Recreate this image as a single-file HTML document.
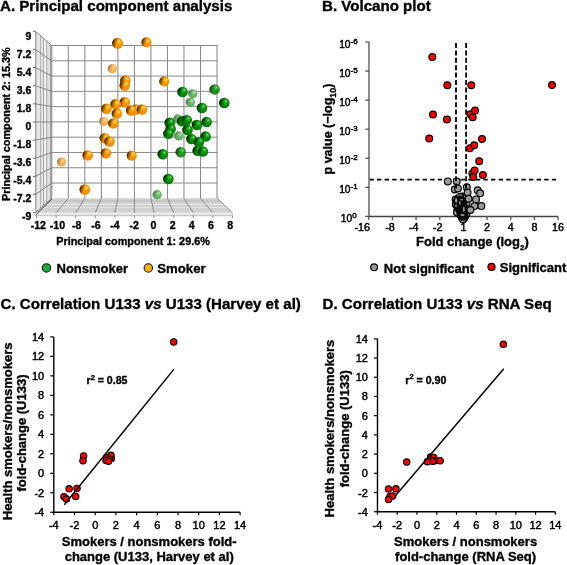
<!DOCTYPE html>
<html><head><meta charset="utf-8"><style>
html,body{margin:0;padding:0;background:#fff;width:567px;height:565px;overflow:hidden}
svg{display:block;will-change:transform}
text{font-family:"Liberation Sans", sans-serif;fill:#000;stroke:#000;stroke-width:0.35px}
.rg{stroke-width:0.45px}
</style></head><body>
<svg width="567" height="565" viewBox="0 0 567 565">
<defs>
<radialGradient id="gO" cx="0.55" cy="0.45" r="0.62" fx="0.68" fy="0.3">
 <stop offset="0" stop-color="#fff6b0"/><stop offset="0.13" stop-color="#ffc640"/><stop offset="0.42" stop-color="#f69500"/><stop offset="0.85" stop-color="#ee8c00"/><stop offset="1" stop-color="#d07000"/>
</radialGradient>
<radialGradient id="gG" cx="0.55" cy="0.45" r="0.62" fx="0.68" fy="0.3">
 <stop offset="0" stop-color="#a8f0a8"/><stop offset="0.13" stop-color="#3cba3c"/><stop offset="0.42" stop-color="#0a900a"/><stop offset="0.85" stop-color="#067c06"/><stop offset="1" stop-color="#045e04"/>
</radialGradient>
<linearGradient id="gDark" x1="0" y1="0.35" x2="1" y2="0.65">
 <stop offset="0" stop-color="#140a00" stop-opacity="1"/><stop offset="0.2" stop-color="#140a00" stop-opacity="0.45"/><stop offset="0.42" stop-color="#140a00" stop-opacity="0"/>
</linearGradient>
<linearGradient id="gDarkG" x1="0" y1="0.35" x2="1" y2="0.65">
 <stop offset="0" stop-color="#001400" stop-opacity="1"/><stop offset="0.2" stop-color="#001400" stop-opacity="0.45"/><stop offset="0.42" stop-color="#001400" stop-opacity="0"/>
</linearGradient>
<radialGradient id="gOL" cx="0.55" cy="0.45" r="0.62" fx="0.68" fy="0.3">
 <stop offset="0" stop-color="#fff2a0"/><stop offset="0.15" stop-color="#fbcf6a"/><stop offset="0.45" stop-color="#f5b460"/><stop offset="1" stop-color="#eea850"/>
</radialGradient>
<radialGradient id="gGL" cx="0.55" cy="0.45" r="0.62" fx="0.68" fy="0.3">
 <stop offset="0" stop-color="#d0f5d0"/><stop offset="0.15" stop-color="#95d495"/><stop offset="0.45" stop-color="#6cb86c"/><stop offset="1" stop-color="#5aa85a"/>
</radialGradient>
<linearGradient id="gDarkL" x1="0" y1="0.35" x2="1" y2="0.65">
 <stop offset="0" stop-color="#505050" stop-opacity="0.8"/><stop offset="0.2" stop-color="#505050" stop-opacity="0.3"/><stop offset="0.42" stop-color="#505050" stop-opacity="0"/>
</linearGradient>
</defs>
<rect width="567" height="565" fill="#fff"/>
<text x="0" y="10.9" font-size="15.1" font-weight="bold">A. Principal component analysis</text>
<text x="322" y="10.9" font-size="15.1" font-weight="bold">B. Volcano plot</text>
<text x="0.5" y="309.2" font-size="15.1" font-weight="bold">C. Correlation U133 <tspan font-style="italic">vs</tspan> U133 (Harvey et al)</text>
<text x="322.5" y="309.2" font-size="15.1" font-weight="bold">D. Correlation U133 <tspan font-style="italic">vs</tspan> RNA Seq</text>
<polygon points="35.3,31.3 51.8,45.5 51.8,198.3 35.3,212.7" fill="#e2e2e2"/>
<polygon points="35.3,31.30 36.6,32.42 36.6,211.57 35.3,212.70" fill="#bdbdbd"/>
<polygon points="38.5,34.05 40.0,35.34 40.0,208.60 38.5,209.91" fill="#f4f4f4"/>
<polygon points="44.2,38.96 46.0,40.51 46.0,203.36 44.2,204.93" fill="#f4f4f4"/>
<polygon points="50.0,43.95 51.8,45.50 51.8,198.30 50.0,199.87" fill="#c4c4c4"/>
<line x1="35.5" y1="31.47" x2="35.5" y2="212.53" stroke="#9a9a9a" stroke-width="0.8"/>
<line x1="40.3" y1="35.60" x2="40.3" y2="208.34" stroke="#9a9a9a" stroke-width="0.8"/>
<line x1="43.5" y1="38.36" x2="43.5" y2="205.54" stroke="#9a9a9a" stroke-width="0.8"/>
<line x1="46.7" y1="41.11" x2="46.7" y2="202.75" stroke="#9a9a9a" stroke-width="0.8"/>
<line x1="50.4" y1="44.30" x2="50.4" y2="199.52" stroke="#9a9a9a" stroke-width="0.8"/>
<line x1="35.3" y1="31.28" x2="51.8" y2="45.49" stroke="#6f6f6f" stroke-width="0.8"/>
<line x1="35.3" y1="49.42" x2="51.8" y2="60.77" stroke="#6f6f6f" stroke-width="0.8"/>
<line x1="35.3" y1="67.57" x2="51.8" y2="76.05" stroke="#6f6f6f" stroke-width="0.8"/>
<line x1="35.3" y1="85.71" x2="51.8" y2="91.34" stroke="#6f6f6f" stroke-width="0.8"/>
<line x1="35.3" y1="103.86" x2="51.8" y2="106.62" stroke="#6f6f6f" stroke-width="0.8"/>
<line x1="35.3" y1="122.00" x2="51.8" y2="121.90" stroke="#6f6f6f" stroke-width="0.8"/>
<line x1="35.3" y1="140.14" x2="51.8" y2="137.18" stroke="#6f6f6f" stroke-width="0.8"/>
<line x1="35.3" y1="158.29" x2="51.8" y2="152.46" stroke="#6f6f6f" stroke-width="0.8"/>
<line x1="35.3" y1="176.43" x2="51.8" y2="167.75" stroke="#6f6f6f" stroke-width="0.8"/>
<line x1="35.3" y1="194.58" x2="51.8" y2="183.03" stroke="#6f6f6f" stroke-width="0.8"/>
<line x1="35.3" y1="212.72" x2="51.8" y2="198.31" stroke="#6f6f6f" stroke-width="0.8"/>
<polygon points="51.8,198.3 217,198.3 232.5,212.8 36.2,212.8" fill="#d0d0d0"/>
<rect x="36" y="212.8" width="197" height="2" fill="#ececec"/>
<line x1="36" y1="215.5" x2="233" y2="215.5" stroke="#c8c8c8" stroke-width="1.3"/>
<line x1="49.00" y1="200.9" x2="219.78" y2="200.9" stroke="#bcbcbd" stroke-width="0.9"/>
<line x1="45.34" y1="204.3" x2="223.41" y2="204.3" stroke="#f0f0f0" stroke-width="0.9"/>
<line x1="41.79" y1="207.6" x2="226.94" y2="207.6" stroke="#e6e6e6" stroke-width="0.9"/>
<line x1="51.80" y1="198.3" x2="36.50" y2="212.8" stroke="#7a7a7a" stroke-width="0.8"/>
<line x1="68.32" y1="198.3" x2="56.10" y2="212.8" stroke="#7a7a7a" stroke-width="0.8"/>
<line x1="84.84" y1="198.3" x2="75.70" y2="212.8" stroke="#7a7a7a" stroke-width="0.8"/>
<line x1="101.36" y1="198.3" x2="95.30" y2="212.8" stroke="#7a7a7a" stroke-width="0.8"/>
<line x1="117.88" y1="198.3" x2="114.90" y2="212.8" stroke="#7a7a7a" stroke-width="0.8"/>
<line x1="134.40" y1="198.3" x2="134.50" y2="212.8" stroke="#7a7a7a" stroke-width="0.8"/>
<line x1="150.92" y1="198.3" x2="154.10" y2="212.8" stroke="#7a7a7a" stroke-width="0.8"/>
<line x1="167.44" y1="198.3" x2="173.70" y2="212.8" stroke="#7a7a7a" stroke-width="0.8"/>
<line x1="183.96" y1="198.3" x2="193.30" y2="212.8" stroke="#7a7a7a" stroke-width="0.8"/>
<line x1="200.48" y1="198.3" x2="212.90" y2="212.8" stroke="#7a7a7a" stroke-width="0.8"/>
<line x1="217.00" y1="198.3" x2="232.50" y2="212.8" stroke="#7a7a7a" stroke-width="0.8"/>
<line x1="35.3" y1="215.5" x2="51.8" y2="199" stroke="#555" stroke-width="1"/>
<line x1="51.80" y1="45.5" x2="51.80" y2="198.3" stroke="#858585" stroke-width="1"/>
<line x1="68.32" y1="45.5" x2="68.32" y2="198.3" stroke="#858585" stroke-width="1"/>
<line x1="84.84" y1="45.5" x2="84.84" y2="198.3" stroke="#858585" stroke-width="1"/>
<line x1="101.36" y1="45.5" x2="101.36" y2="198.3" stroke="#858585" stroke-width="1"/>
<line x1="117.88" y1="45.5" x2="117.88" y2="198.3" stroke="#858585" stroke-width="1"/>
<line x1="134.40" y1="45.5" x2="134.40" y2="198.3" stroke="#858585" stroke-width="1"/>
<line x1="150.92" y1="45.5" x2="150.92" y2="198.3" stroke="#858585" stroke-width="1"/>
<line x1="167.44" y1="45.5" x2="167.44" y2="198.3" stroke="#858585" stroke-width="1"/>
<line x1="183.96" y1="45.5" x2="183.96" y2="198.3" stroke="#858585" stroke-width="1"/>
<line x1="200.48" y1="45.5" x2="200.48" y2="198.3" stroke="#858585" stroke-width="1"/>
<line x1="217.00" y1="45.5" x2="217.00" y2="198.3" stroke="#858585" stroke-width="1"/>
<line x1="51.8" y1="45.49" x2="217.5" y2="45.49" stroke="#8a8a8a" stroke-width="1"/>
<line x1="51.8" y1="60.77" x2="217.5" y2="60.77" stroke="#8a8a8a" stroke-width="1"/>
<line x1="51.8" y1="76.05" x2="217.5" y2="76.05" stroke="#8a8a8a" stroke-width="1"/>
<line x1="51.8" y1="91.34" x2="217.5" y2="91.34" stroke="#8a8a8a" stroke-width="1"/>
<line x1="51.8" y1="106.62" x2="217.5" y2="106.62" stroke="#8a8a8a" stroke-width="1"/>
<line x1="51.8" y1="121.90" x2="217.5" y2="121.90" stroke="#8a8a8a" stroke-width="1"/>
<line x1="51.8" y1="137.18" x2="217.5" y2="137.18" stroke="#8a8a8a" stroke-width="1"/>
<line x1="51.8" y1="152.46" x2="217.5" y2="152.46" stroke="#8a8a8a" stroke-width="1"/>
<line x1="51.8" y1="167.75" x2="217.5" y2="167.75" stroke="#8a8a8a" stroke-width="1"/>
<line x1="51.8" y1="183.03" x2="217.5" y2="183.03" stroke="#8a8a8a" stroke-width="1"/>
<line x1="33" y1="31.28" x2="35.3" y2="31.28" stroke="#666" stroke-width="1"/>
<line x1="33" y1="49.42" x2="35.3" y2="49.42" stroke="#666" stroke-width="1"/>
<line x1="33" y1="67.57" x2="35.3" y2="67.57" stroke="#666" stroke-width="1"/>
<line x1="33" y1="85.71" x2="35.3" y2="85.71" stroke="#666" stroke-width="1"/>
<line x1="33" y1="103.86" x2="35.3" y2="103.86" stroke="#666" stroke-width="1"/>
<line x1="33" y1="122.00" x2="35.3" y2="122.00" stroke="#666" stroke-width="1"/>
<line x1="33" y1="140.14" x2="35.3" y2="140.14" stroke="#666" stroke-width="1"/>
<line x1="33" y1="158.29" x2="35.3" y2="158.29" stroke="#666" stroke-width="1"/>
<line x1="33" y1="176.43" x2="35.3" y2="176.43" stroke="#666" stroke-width="1"/>
<line x1="33" y1="194.58" x2="35.3" y2="194.58" stroke="#666" stroke-width="1"/>
<line x1="33" y1="212.72" x2="35.3" y2="212.72" stroke="#666" stroke-width="1"/>
<line x1="36.50" y1="215.5" x2="36.50" y2="217.8" stroke="#888" stroke-width="1"/>
<line x1="56.10" y1="215.5" x2="56.10" y2="217.8" stroke="#888" stroke-width="1"/>
<line x1="75.70" y1="215.5" x2="75.70" y2="217.8" stroke="#888" stroke-width="1"/>
<line x1="95.30" y1="215.5" x2="95.30" y2="217.8" stroke="#888" stroke-width="1"/>
<line x1="114.90" y1="215.5" x2="114.90" y2="217.8" stroke="#888" stroke-width="1"/>
<line x1="134.50" y1="215.5" x2="134.50" y2="217.8" stroke="#888" stroke-width="1"/>
<line x1="154.10" y1="215.5" x2="154.10" y2="217.8" stroke="#888" stroke-width="1"/>
<line x1="173.70" y1="215.5" x2="173.70" y2="217.8" stroke="#888" stroke-width="1"/>
<line x1="193.30" y1="215.5" x2="193.30" y2="217.8" stroke="#888" stroke-width="1"/>
<line x1="212.90" y1="215.5" x2="212.90" y2="217.8" stroke="#888" stroke-width="1"/>
<line x1="232.50" y1="215.5" x2="232.50" y2="217.8" stroke="#888" stroke-width="1"/>
<text x="31.3" y="39.61" text-anchor="end" font-size="10.5" font-weight="bold">9</text>
<text x="31.3" y="57.63" text-anchor="end" font-size="10.5" font-weight="bold">7.2</text>
<text x="31.3" y="75.65" text-anchor="end" font-size="10.5" font-weight="bold">5.4</text>
<text x="31.3" y="93.66" text-anchor="end" font-size="10.5" font-weight="bold">3.6</text>
<text x="31.3" y="111.68" text-anchor="end" font-size="10.5" font-weight="bold">1.8</text>
<text x="31.3" y="129.70" text-anchor="end" font-size="10.5" font-weight="bold">0</text>
<text x="31.3" y="147.72" text-anchor="end" font-size="10.5" font-weight="bold">-1.8</text>
<text x="31.3" y="165.74" text-anchor="end" font-size="10.5" font-weight="bold">-3.6</text>
<text x="31.3" y="183.75" text-anchor="end" font-size="10.5" font-weight="bold">-5.4</text>
<text x="31.3" y="201.77" text-anchor="end" font-size="10.5" font-weight="bold">-7.2</text>
<text x="31.3" y="219.79" text-anchor="end" font-size="10.5" font-weight="bold">-9</text>
<text x="38.30" y="228.6" text-anchor="middle" font-size="10.6" font-weight="bold">-12</text>
<text x="57.49" y="228.6" text-anchor="middle" font-size="10.6" font-weight="bold">-10</text>
<text x="76.68" y="228.6" text-anchor="middle" font-size="10.6" font-weight="bold">-8</text>
<text x="95.87" y="228.6" text-anchor="middle" font-size="10.6" font-weight="bold">-6</text>
<text x="115.06" y="228.6" text-anchor="middle" font-size="10.6" font-weight="bold">-4</text>
<text x="134.25" y="228.6" text-anchor="middle" font-size="10.6" font-weight="bold">-2</text>
<text x="153.44" y="228.6" text-anchor="middle" font-size="10.6" font-weight="bold">0</text>
<text x="172.63" y="228.6" text-anchor="middle" font-size="10.6" font-weight="bold">2</text>
<text x="191.82" y="228.6" text-anchor="middle" font-size="10.6" font-weight="bold">4</text>
<text x="211.01" y="228.6" text-anchor="middle" font-size="10.6" font-weight="bold">6</text>
<text x="230.20" y="228.6" text-anchor="middle" font-size="10.6" font-weight="bold">8</text>
<text x="56.2" y="244.6" font-size="10.85" font-weight="bold">Principal component 1: 29.6%</text>
<text transform="translate(9.7,124.2) rotate(-90)" text-anchor="middle" font-size="10.85" font-weight="bold">Principal component 2: 15.3%</text>
<circle cx="46.5" cy="267.9" r="4.2" fill="#1aaa3a" stroke="#111" stroke-width="1.1"/>
<text x="56.5" y="272.6" font-size="13" font-weight="bold">Nonsmoker</text>
<circle cx="148.3" cy="268" r="4.2" fill="#f5b419" stroke="#111" stroke-width="1.1"/>
<text x="157.3" y="272.6" font-size="13.2" font-weight="bold">Smoker</text>
<circle cx="112.4" cy="68.7" r="4.6" fill="url(#gOL)"/><circle cx="112.4" cy="68.7" r="4.6" fill="url(#gDarkL)"/>
<circle cx="103.8" cy="121.5" r="4.6" fill="url(#gOL)"/><circle cx="103.8" cy="121.5" r="4.6" fill="url(#gDarkL)"/>
<circle cx="61.7" cy="162.1" r="4.6" fill="url(#gOL)"/><circle cx="61.7" cy="162.1" r="4.6" fill="url(#gDarkL)"/>
<circle cx="192.8" cy="93.8" r="4.6" fill="url(#gGL)"/><circle cx="192.8" cy="93.8" r="4.6" fill="url(#gDarkL)"/>
<circle cx="190.4" cy="102.3" r="4.6" fill="url(#gGL)"/><circle cx="190.4" cy="102.3" r="4.6" fill="url(#gDarkL)"/>
<circle cx="177.9" cy="118.9" r="4.6" fill="url(#gGL)"/><circle cx="177.9" cy="118.9" r="4.6" fill="url(#gDarkL)"/>
<circle cx="178.8" cy="135.9" r="4.6" fill="url(#gGL)"/><circle cx="178.8" cy="135.9" r="4.6" fill="url(#gDarkL)"/>
<circle cx="157.2" cy="194.7" r="4.6" fill="url(#gGL)"/><circle cx="157.2" cy="194.7" r="4.6" fill="url(#gDarkL)"/>
<g opacity="1.0"><circle cx="146.5" cy="42.4" r="5.05" fill="url(#gO)"/><circle cx="146.5" cy="42.4" r="5.05" fill="url(#gDark)"/></g>
<g opacity="1.0"><circle cx="164.3" cy="81.5" r="5.05" fill="url(#gO)"/><circle cx="164.3" cy="81.5" r="5.05" fill="url(#gDark)"/></g>
<g opacity="1.0"><circle cx="131.8" cy="155.7" r="5.05" fill="url(#gO)"/><circle cx="131.8" cy="155.7" r="5.05" fill="url(#gDark)"/></g>
<g opacity="1.0"><circle cx="125.4" cy="80.6" r="5.25" fill="url(#gO)"/><circle cx="125.4" cy="80.6" r="5.25" fill="url(#gDark)"/></g>
<g opacity="1.0"><circle cx="124.8" cy="85.5" r="5.25" fill="url(#gO)"/><circle cx="124.8" cy="85.5" r="5.25" fill="url(#gDark)"/></g>
<g opacity="1.0"><circle cx="124.8" cy="102.2" r="5.25" fill="url(#gO)"/><circle cx="124.8" cy="102.2" r="5.25" fill="url(#gDark)"/></g>
<g opacity="1.0"><circle cx="115.7" cy="104.3" r="5.25" fill="url(#gO)"/><circle cx="115.7" cy="104.3" r="5.25" fill="url(#gDark)"/></g>
<g opacity="1.0"><circle cx="106.5" cy="108.8" r="5.25" fill="url(#gO)"/><circle cx="106.5" cy="108.8" r="5.25" fill="url(#gDark)"/></g>
<g opacity="1.0"><circle cx="116.9" cy="113.6" r="5.25" fill="url(#gO)"/><circle cx="116.9" cy="113.6" r="5.25" fill="url(#gDark)"/></g>
<g opacity="1.0"><circle cx="136.2" cy="109.6" r="5.25" fill="url(#gO)"/><circle cx="136.2" cy="109.6" r="5.25" fill="url(#gDark)"/></g>
<g opacity="1.0"><circle cx="131.2" cy="110.5" r="5.25" fill="url(#gO)"/><circle cx="131.2" cy="110.5" r="5.25" fill="url(#gDark)"/></g>
<g opacity="1.0"><circle cx="142" cy="109.6" r="5.25" fill="url(#gO)"/><circle cx="142" cy="109.6" r="5.25" fill="url(#gDark)"/></g>
<g opacity="1.0"><circle cx="113.4" cy="123.4" r="5.25" fill="url(#gO)"/><circle cx="113.4" cy="123.4" r="5.25" fill="url(#gDark)"/></g>
<g opacity="1.0"><circle cx="104.9" cy="138.3" r="5.25" fill="url(#gO)"/><circle cx="104.9" cy="138.3" r="5.25" fill="url(#gDark)"/></g>
<g opacity="1.0"><circle cx="109.6" cy="141.5" r="5.25" fill="url(#gO)"/><circle cx="109.6" cy="141.5" r="5.25" fill="url(#gDark)"/></g>
<g opacity="1.0"><circle cx="106" cy="153.2" r="5.25" fill="url(#gO)"/><circle cx="106" cy="153.2" r="5.25" fill="url(#gDark)"/></g>
<g opacity="1.0"><circle cx="87.7" cy="155.4" r="5.25" fill="url(#gO)"/><circle cx="87.7" cy="155.4" r="5.25" fill="url(#gDark)"/></g>
<g opacity="1.0"><circle cx="182.6" cy="92" r="5.25" fill="url(#gG)"/><circle cx="182.6" cy="92" r="5.25" fill="url(#gDarkG)"/></g>
<g opacity="0.88"><circle cx="214.7" cy="89.4" r="5.25" fill="url(#gG)"/><circle cx="214.7" cy="89.4" r="5.25" fill="url(#gDarkG)"/></g>
<g opacity="1.0"><circle cx="224.4" cy="103" r="5.25" fill="url(#gG)"/><circle cx="224.4" cy="103" r="5.25" fill="url(#gDarkG)"/></g>
<g opacity="1.0"><circle cx="202" cy="108" r="5.25" fill="url(#gG)"/><circle cx="202" cy="108" r="5.25" fill="url(#gDarkG)"/></g>
<g opacity="1.0"><circle cx="182.2" cy="121.3" r="5.25" fill="url(#gG)"/><circle cx="182.2" cy="121.3" r="5.25" fill="url(#gDarkG)"/></g>
<g opacity="1.0"><circle cx="186.8" cy="120.2" r="5.25" fill="url(#gG)"/><circle cx="186.8" cy="120.2" r="5.25" fill="url(#gDarkG)"/></g>
<g opacity="1.0"><circle cx="169.8" cy="122.8" r="5.25" fill="url(#gG)"/><circle cx="169.8" cy="122.8" r="5.25" fill="url(#gDarkG)"/></g>
<g opacity="1.0"><circle cx="197" cy="125" r="5.25" fill="url(#gG)"/><circle cx="197" cy="125" r="5.25" fill="url(#gDarkG)"/></g>
<g opacity="1.0"><circle cx="206.7" cy="122.1" r="5.25" fill="url(#gG)"/><circle cx="206.7" cy="122.1" r="5.25" fill="url(#gDarkG)"/></g>
<g opacity="1.0"><circle cx="170.7" cy="129" r="5.25" fill="url(#gG)"/><circle cx="170.7" cy="129" r="5.25" fill="url(#gDarkG)"/></g>
<g opacity="1.0"><circle cx="168.5" cy="133.8" r="5.25" fill="url(#gG)"/><circle cx="168.5" cy="133.8" r="5.25" fill="url(#gDarkG)"/></g>
<g opacity="1.0"><circle cx="187.6" cy="130" r="5.25" fill="url(#gG)"/><circle cx="187.6" cy="130" r="5.25" fill="url(#gDarkG)"/></g>
<g opacity="1.0"><circle cx="205.7" cy="136.6" r="5.25" fill="url(#gG)"/><circle cx="205.7" cy="136.6" r="5.25" fill="url(#gDarkG)"/></g>
<g opacity="1.0"><circle cx="191.5" cy="139.1" r="5.25" fill="url(#gG)"/><circle cx="191.5" cy="139.1" r="5.25" fill="url(#gDarkG)"/></g>
<g opacity="1.0"><circle cx="198.9" cy="142.2" r="5.25" fill="url(#gG)"/><circle cx="198.9" cy="142.2" r="5.25" fill="url(#gDarkG)"/></g>
<g opacity="1.0"><circle cx="197.8" cy="150.8" r="5.25" fill="url(#gG)"/><circle cx="197.8" cy="150.8" r="5.25" fill="url(#gDarkG)"/></g>
<g opacity="1.0"><circle cx="162.8" cy="154.2" r="5.25" fill="url(#gG)"/><circle cx="162.8" cy="154.2" r="5.25" fill="url(#gDarkG)"/></g>
<g opacity="0.88"><circle cx="180.8" cy="152.2" r="5.25" fill="url(#gG)"/><circle cx="180.8" cy="152.2" r="5.25" fill="url(#gDarkG)"/></g>
<g opacity="1.0"><circle cx="203" cy="151.6" r="5.25" fill="url(#gG)"/><circle cx="203" cy="151.6" r="5.25" fill="url(#gDarkG)"/></g>
<g opacity="1.0"><circle cx="168.4" cy="179" r="5.25" fill="url(#gG)"/><circle cx="168.4" cy="179" r="5.25" fill="url(#gDarkG)"/></g>
<g opacity="1.0"><circle cx="84.9" cy="189.5" r="5.35" fill="url(#gO)"/><circle cx="84.9" cy="189.5" r="5.35" fill="url(#gDark)"/></g>
<g opacity="1.0"><circle cx="117.6" cy="43.3" r="5.45" fill="url(#gO)"/><circle cx="117.6" cy="43.3" r="5.45" fill="url(#gDark)"/></g>
<line x1="369.4" y1="179.6" x2="558" y2="179.6" stroke="#000" stroke-width="1.7" stroke-dasharray="4.4,3.2"/>
<line x1="369" y1="41.7" x2="369" y2="216.6" stroke="#666" stroke-width="1.5"/>
<line x1="369" y1="216.6" x2="558.2" y2="216.6" stroke="#444" stroke-width="1.5"/>
<line x1="365.3" y1="216.40" x2="369" y2="216.40" stroke="#555" stroke-width="1.3"/>
<text x="352.2" y="222.00" text-anchor="end" font-size="10.2" class="rg">10</text>
<text x="352.3" y="218.30" font-size="8" class="rg">0</text>
<line x1="365.3" y1="187.33" x2="369" y2="187.33" stroke="#555" stroke-width="1.3"/>
<text x="350.5" y="192.93" text-anchor="end" font-size="10.2" class="rg">10</text>
<text x="350.6" y="189.23" font-size="8" class="rg">-1</text>
<line x1="365.3" y1="158.26" x2="369" y2="158.26" stroke="#555" stroke-width="1.3"/>
<text x="350.5" y="163.86" text-anchor="end" font-size="10.2" class="rg">10</text>
<text x="350.6" y="160.16" font-size="8" class="rg">-2</text>
<line x1="365.3" y1="129.19" x2="369" y2="129.19" stroke="#555" stroke-width="1.3"/>
<text x="350.5" y="134.79" text-anchor="end" font-size="10.2" class="rg">10</text>
<text x="350.6" y="131.09" font-size="8" class="rg">-3</text>
<line x1="365.3" y1="100.12" x2="369" y2="100.12" stroke="#555" stroke-width="1.3"/>
<text x="350.5" y="105.72" text-anchor="end" font-size="10.2" class="rg">10</text>
<text x="350.6" y="102.02" font-size="8" class="rg">-4</text>
<line x1="365.3" y1="71.05" x2="369" y2="71.05" stroke="#555" stroke-width="1.3"/>
<text x="350.5" y="76.65" text-anchor="end" font-size="10.2" class="rg">10</text>
<text x="350.6" y="72.95" font-size="8" class="rg">-5</text>
<line x1="365.3" y1="41.98" x2="369" y2="41.98" stroke="#555" stroke-width="1.3"/>
<text x="350.5" y="47.58" text-anchor="end" font-size="10.2" class="rg">10</text>
<text x="350.6" y="43.88" font-size="8" class="rg">-6</text>
<line x1="368.80" y1="216.6" x2="368.80" y2="220" stroke="#555" stroke-width="1.3"/>
<text x="362.30" y="230.5" text-anchor="middle" font-size="10.8" class="rg">-16</text>
<line x1="392.46" y1="216.6" x2="392.46" y2="220" stroke="#555" stroke-width="1.3"/>
<text x="389.96" y="230.5" text-anchor="middle" font-size="10.8" class="rg">-8</text>
<line x1="416.12" y1="216.6" x2="416.12" y2="220" stroke="#555" stroke-width="1.3"/>
<text x="413.72" y="230.5" text-anchor="middle" font-size="10.8" class="rg">-4</text>
<line x1="439.78" y1="216.6" x2="439.78" y2="220" stroke="#555" stroke-width="1.3"/>
<text x="437.68" y="230.5" text-anchor="middle" font-size="10.8" class="rg">-2</text>
<line x1="463.44" y1="216.6" x2="463.44" y2="220" stroke="#555" stroke-width="1.3"/>
<text x="463.44" y="230.5" text-anchor="middle" font-size="10.8" class="rg">1</text>
<line x1="487.10" y1="216.6" x2="487.10" y2="220" stroke="#555" stroke-width="1.3"/>
<text x="487.10" y="230.5" text-anchor="middle" font-size="10.8" class="rg">2</text>
<line x1="510.76" y1="216.6" x2="510.76" y2="220" stroke="#555" stroke-width="1.3"/>
<text x="510.76" y="230.5" text-anchor="middle" font-size="10.8" class="rg">4</text>
<line x1="534.42" y1="216.6" x2="534.42" y2="220" stroke="#555" stroke-width="1.3"/>
<text x="534.42" y="230.5" text-anchor="middle" font-size="10.8" class="rg">8</text>
<line x1="558.08" y1="216.6" x2="558.08" y2="220" stroke="#555" stroke-width="1.3"/>
<text x="558.08" y="230.5" text-anchor="middle" font-size="10.8" class="rg">16</text>
<text x="416" y="246.4" font-size="13" font-weight="bold">Fold change (log<tspan font-size="8" dy="3.4">2</tspan><tspan dy="-3.4">)</tspan></text>
<text transform="translate(332.4,129) rotate(-90)" text-anchor="middle" font-size="12.5" font-weight="bold">p value (−log<tspan font-size="9" dy="3.2">10</tspan><tspan dy="-3.2">)</tspan></text>
<circle cx="447.8" cy="181.4" r="3.4" fill="#9b9b9b" stroke="#000" stroke-width="1.2"/>
<circle cx="456.7" cy="181.4" r="3.4" fill="#9b9b9b" stroke="#000" stroke-width="1.2"/>
<circle cx="454.8" cy="189.5" r="3.4" fill="#9b9b9b" stroke="#000" stroke-width="1.2"/>
<circle cx="457.9" cy="188.4" r="3.4" fill="#9b9b9b" stroke="#000" stroke-width="1.2"/>
<circle cx="466.8" cy="187.2" r="3.4" fill="#9b9b9b" stroke="#000" stroke-width="1.2"/>
<circle cx="467.6" cy="192.6" r="3.4" fill="#9b9b9b" stroke="#000" stroke-width="1.2"/>
<circle cx="477.7" cy="190.3" r="3.4" fill="#9b9b9b" stroke="#000" stroke-width="1.2"/>
<circle cx="480.2" cy="193.2" r="3.4" fill="#9b9b9b" stroke="#000" stroke-width="1.2"/>
<circle cx="455.6" cy="199.6" r="3.4" fill="#9b9b9b" stroke="#000" stroke-width="1.2"/>
<circle cx="455.8" cy="204.5" r="3.4" fill="#9b9b9b" stroke="#000" stroke-width="1.2"/>
<circle cx="458.5" cy="198.2" r="3.4" fill="#9b9b9b" stroke="#000" stroke-width="1.2"/>
<circle cx="459" cy="202" r="3.4" fill="#9b9b9b" stroke="#000" stroke-width="1.2"/>
<circle cx="459.5" cy="207" r="3.4" fill="#9b9b9b" stroke="#000" stroke-width="1.2"/>
<circle cx="457.5" cy="210" r="3.4" fill="#9b9b9b" stroke="#000" stroke-width="1.2"/>
<circle cx="461.5" cy="200" r="3.4" fill="#9b9b9b" stroke="#000" stroke-width="1.2"/>
<circle cx="462" cy="205" r="3.4" fill="#9b9b9b" stroke="#000" stroke-width="1.2"/>
<circle cx="463" cy="209.5" r="3.4" fill="#9b9b9b" stroke="#000" stroke-width="1.2"/>
<circle cx="461" cy="213" r="3.4" fill="#9b9b9b" stroke="#000" stroke-width="1.2"/>
<circle cx="464.5" cy="214.8" r="3.4" fill="#9b9b9b" stroke="#000" stroke-width="1.2"/>
<circle cx="463" cy="216.8" r="3.4" fill="#9b9b9b" stroke="#000" stroke-width="1.2"/>
<circle cx="465" cy="201.5" r="3.4" fill="#9b9b9b" stroke="#000" stroke-width="1.2"/>
<circle cx="466" cy="206" r="3.4" fill="#9b9b9b" stroke="#000" stroke-width="1.2"/>
<circle cx="466.5" cy="211.5" r="3.4" fill="#9b9b9b" stroke="#000" stroke-width="1.2"/>
<circle cx="462" cy="196.5" r="3.4" fill="#9b9b9b" stroke="#000" stroke-width="1.2"/>
<circle cx="460" cy="211" r="3.4" fill="#9b9b9b" stroke="#000" stroke-width="1.2"/>
<circle cx="464.2" cy="218.2" r="3.4" fill="#9b9b9b" stroke="#000" stroke-width="1.2"/>
<circle cx="461.8" cy="217.5" r="3.4" fill="#9b9b9b" stroke="#000" stroke-width="1.2"/>
<circle cx="457" cy="201" r="3.4" fill="#9b9b9b" stroke="#000" stroke-width="1.2"/>
<circle cx="458" cy="204.5" r="3.4" fill="#9b9b9b" stroke="#000" stroke-width="1.2"/>
<circle cx="460.5" cy="203.5" r="3.4" fill="#9b9b9b" stroke="#000" stroke-width="1.2"/>
<circle cx="457.5" cy="207" r="3.4" fill="#9b9b9b" stroke="#000" stroke-width="1.2"/>
<circle cx="460.8" cy="208.5" r="3.4" fill="#9b9b9b" stroke="#000" stroke-width="1.2"/>
<circle cx="462.5" cy="211.5" r="3.4" fill="#9b9b9b" stroke="#000" stroke-width="1.2"/>
<circle cx="459.5" cy="214" r="3.4" fill="#9b9b9b" stroke="#000" stroke-width="1.2"/>
<circle cx="462" cy="215" r="3.4" fill="#9b9b9b" stroke="#000" stroke-width="1.2"/>
<circle cx="465" cy="216.5" r="3.4" fill="#9b9b9b" stroke="#000" stroke-width="1.2"/>
<circle cx="463.5" cy="206.5" r="3.4" fill="#9b9b9b" stroke="#000" stroke-width="1.2"/>
<circle cx="464" cy="198.5" r="3.4" fill="#9b9b9b" stroke="#000" stroke-width="1.2"/>
<circle cx="466.5" cy="203.5" r="3.4" fill="#9b9b9b" stroke="#000" stroke-width="1.2"/>
<circle cx="465.5" cy="209" r="3.4" fill="#9b9b9b" stroke="#000" stroke-width="1.2"/>
<circle cx="460" cy="197" r="3.4" fill="#9b9b9b" stroke="#000" stroke-width="1.2"/>
<circle cx="457" cy="212.5" r="3.4" fill="#9b9b9b" stroke="#000" stroke-width="1.2"/>
<circle cx="463" cy="219.5" r="3.4" fill="#9b9b9b" stroke="#000" stroke-width="1.2"/>
<circle cx="466.5" cy="214" r="3.4" fill="#9b9b9b" stroke="#000" stroke-width="1.2"/>
<path d="M454.5,198.5 L459,195.8 L463,196.5 L466.5,199.5 L467,205 L467.3,210 L468,216 L466.5,220 L461,220.5 L458,217.5 L456.5,212.5 L454,207 Z" fill="#000" stroke="#000" stroke-width="0.8" stroke-linejoin="round"/>
<ellipse cx="463.8" cy="209.5" rx="1" ry="2.4" fill="#9b9b9b"/>
<ellipse cx="462.5" cy="215" rx="2.2" ry="1" fill="#9b9b9b"/>
<ellipse cx="459.8" cy="203" rx="0.9" ry="2" fill="#8a8a8a"/>
<ellipse cx="461.5" cy="199.8" rx="1.8" ry="0.8" fill="#8a8a8a"/>
<ellipse cx="456.2" cy="200.5" rx="1.2" ry="2.3" fill="#9b9b9b"/>
<ellipse cx="456" cy="205.8" rx="0.9" ry="1.6" fill="#8a8a8a"/>
<circle cx="468.6" cy="198.7" r="3.4" fill="#9b9b9b" stroke="#000" stroke-width="1.2"/>
<circle cx="476" cy="199.4" r="3.4" fill="#9b9b9b" stroke="#000" stroke-width="1.2"/>
<circle cx="474.6" cy="206.1" r="3.4" fill="#9b9b9b" stroke="#000" stroke-width="1.2"/>
<circle cx="481.3" cy="206.1" r="3.4" fill="#9b9b9b" stroke="#000" stroke-width="1.2"/>
<circle cx="470.4" cy="210" r="3.4" fill="#9b9b9b" stroke="#000" stroke-width="1.2"/>
<line x1="456" y1="43" x2="456" y2="190" stroke="#000" stroke-width="1.8" stroke-dasharray="5,2.4"/>
<line x1="466.1" y1="43" x2="466.1" y2="190" stroke="#000" stroke-width="1.8" stroke-dasharray="5,2.4"/>
<circle cx="432.3" cy="56.9" r="3.4" fill="#ff0000" stroke="#000" stroke-width="1.2"/>
<circle cx="447.3" cy="85.2" r="3.4" fill="#ff0000" stroke="#000" stroke-width="1.2"/>
<circle cx="471.3" cy="85.2" r="3.4" fill="#ff0000" stroke="#000" stroke-width="1.2"/>
<circle cx="552" cy="85.1" r="3.4" fill="#ff0000" stroke="#000" stroke-width="1.2"/>
<circle cx="433" cy="114.6" r="3.4" fill="#ff0000" stroke="#000" stroke-width="1.2"/>
<circle cx="446.9" cy="119.5" r="3.4" fill="#ff0000" stroke="#000" stroke-width="1.2"/>
<circle cx="470.3" cy="114.2" r="3.4" fill="#ff0000" stroke="#000" stroke-width="1.2"/>
<circle cx="472.7" cy="117.3" r="3.4" fill="#ff0000" stroke="#000" stroke-width="1.2"/>
<circle cx="475" cy="110.6" r="3.4" fill="#ff0000" stroke="#000" stroke-width="1.2"/>
<circle cx="429.2" cy="138.5" r="3.4" fill="#ff0000" stroke="#000" stroke-width="1.2"/>
<circle cx="482" cy="139" r="3.4" fill="#ff0000" stroke="#000" stroke-width="1.2"/>
<circle cx="469.9" cy="148.2" r="3.4" fill="#ff0000" stroke="#000" stroke-width="1.2"/>
<circle cx="474.2" cy="145.3" r="3.4" fill="#ff0000" stroke="#000" stroke-width="1.2"/>
<circle cx="479.2" cy="161.2" r="3.4" fill="#ff0000" stroke="#000" stroke-width="1.2"/>
<circle cx="472.4" cy="173.5" r="3.4" fill="#ff0000" stroke="#000" stroke-width="1.2"/>
<circle cx="474.6" cy="170.4" r="3.4" fill="#ff0000" stroke="#000" stroke-width="1.2"/>
<circle cx="482.9" cy="175.1" r="3.4" fill="#ff0000" stroke="#000" stroke-width="1.2"/>
<circle cx="473.3" cy="177" r="3.4" fill="#ff0000" stroke="#000" stroke-width="1.2"/>
<circle cx="374.1" cy="267.2" r="3.4" fill="#9b9b9b" stroke="#000" stroke-width="1.2"/>
<text x="383.8" y="272.6" font-size="13" font-weight="bold">Not significant</text>
<circle cx="491.5" cy="266.9" r="3.5" fill="#ff0000" stroke="#000" stroke-width="1.2"/>
<text x="499.8" y="272.2" font-size="13" font-weight="bold">Significant</text>
<line x1="53.80" y1="336.88" x2="53.80" y2="512.88" stroke="#000" stroke-width="1.4"/>
<line x1="53.20" y1="512.28" x2="240.10" y2="512.28" stroke="#000" stroke-width="1.4"/>
<line x1="50.20" y1="512.28" x2="53.80" y2="512.28" stroke="#000" stroke-width="1.2"/>
<text x="44.20" y="516.28" text-anchor="end" font-size="11" class="rg">-4</text>
<line x1="53.80" y1="512.28" x2="53.80" y2="515.28" stroke="#000" stroke-width="1.2"/>
<text x="53.80" y="528.8" text-anchor="middle" font-size="11" class="rg">-4</text>
<line x1="50.20" y1="492.79" x2="53.80" y2="492.79" stroke="#000" stroke-width="1.2"/>
<text x="44.20" y="496.79" text-anchor="end" font-size="11" class="rg">-2</text>
<line x1="74.50" y1="512.28" x2="74.50" y2="515.28" stroke="#000" stroke-width="1.2"/>
<text x="74.50" y="528.8" text-anchor="middle" font-size="11" class="rg">-2</text>
<line x1="50.20" y1="473.30" x2="53.80" y2="473.30" stroke="#000" stroke-width="1.2"/>
<text x="44.20" y="477.30" text-anchor="end" font-size="11" class="rg">0</text>
<line x1="95.20" y1="512.28" x2="95.20" y2="515.28" stroke="#000" stroke-width="1.2"/>
<text x="95.20" y="528.8" text-anchor="middle" font-size="11" class="rg">0</text>
<line x1="50.20" y1="453.81" x2="53.80" y2="453.81" stroke="#000" stroke-width="1.2"/>
<text x="44.20" y="457.81" text-anchor="end" font-size="11" class="rg">2</text>
<line x1="115.90" y1="512.28" x2="115.90" y2="515.28" stroke="#000" stroke-width="1.2"/>
<text x="115.90" y="528.8" text-anchor="middle" font-size="11" class="rg">2</text>
<line x1="50.20" y1="434.32" x2="53.80" y2="434.32" stroke="#000" stroke-width="1.2"/>
<text x="44.20" y="438.32" text-anchor="end" font-size="11" class="rg">4</text>
<line x1="136.60" y1="512.28" x2="136.60" y2="515.28" stroke="#000" stroke-width="1.2"/>
<text x="136.60" y="528.8" text-anchor="middle" font-size="11" class="rg">4</text>
<line x1="50.20" y1="414.84" x2="53.80" y2="414.84" stroke="#000" stroke-width="1.2"/>
<text x="44.20" y="418.84" text-anchor="end" font-size="11" class="rg">6</text>
<line x1="157.30" y1="512.28" x2="157.30" y2="515.28" stroke="#000" stroke-width="1.2"/>
<text x="157.30" y="528.8" text-anchor="middle" font-size="11" class="rg">6</text>
<line x1="50.20" y1="395.35" x2="53.80" y2="395.35" stroke="#000" stroke-width="1.2"/>
<text x="44.20" y="399.35" text-anchor="end" font-size="11" class="rg">8</text>
<line x1="178.00" y1="512.28" x2="178.00" y2="515.28" stroke="#000" stroke-width="1.2"/>
<text x="178.00" y="528.8" text-anchor="middle" font-size="11" class="rg">8</text>
<line x1="50.20" y1="375.86" x2="53.80" y2="375.86" stroke="#000" stroke-width="1.2"/>
<text x="44.20" y="379.86" text-anchor="end" font-size="11" class="rg">10</text>
<line x1="198.70" y1="512.28" x2="198.70" y2="515.28" stroke="#000" stroke-width="1.2"/>
<text x="198.70" y="528.8" text-anchor="middle" font-size="11" class="rg">10</text>
<line x1="50.20" y1="356.37" x2="53.80" y2="356.37" stroke="#000" stroke-width="1.2"/>
<text x="44.20" y="360.37" text-anchor="end" font-size="11" class="rg">12</text>
<line x1="219.40" y1="512.28" x2="219.40" y2="515.28" stroke="#000" stroke-width="1.2"/>
<text x="219.40" y="528.8" text-anchor="middle" font-size="11" class="rg">12</text>
<line x1="50.20" y1="336.88" x2="53.80" y2="336.88" stroke="#000" stroke-width="1.2"/>
<text x="44.20" y="340.88" text-anchor="end" font-size="11" class="rg">14</text>
<line x1="240.10" y1="512.28" x2="240.10" y2="515.28" stroke="#000" stroke-width="1.2"/>
<text x="240.10" y="528.8" text-anchor="middle" font-size="11" class="rg">14</text>
<circle cx="83.6" cy="455.9" r="3.2" fill="#ff0000" stroke="#000" stroke-width="1.1"/>
<circle cx="83" cy="460.8" r="3.2" fill="#ff0000" stroke="#000" stroke-width="1.1"/>
<circle cx="111.3" cy="458.4" r="3.2" fill="#ff0000" stroke="#000" stroke-width="1.1"/>
<circle cx="110.9" cy="455.3" r="3.2" fill="#ff0000" stroke="#000" stroke-width="1.1"/>
<circle cx="106.7" cy="457.7" r="3.2" fill="#ff0000" stroke="#000" stroke-width="1.1"/>
<circle cx="109.5" cy="459.1" r="3.2" fill="#ff0000" stroke="#000" stroke-width="1.1"/>
<circle cx="106" cy="460.5" r="3.2" fill="#ff0000" stroke="#000" stroke-width="1.1"/>
<circle cx="108.5" cy="461.2" r="3.2" fill="#ff0000" stroke="#000" stroke-width="1.1"/>
<circle cx="69.1" cy="488.8" r="3.2" fill="#ff0000" stroke="#000" stroke-width="1.1"/>
<circle cx="77" cy="488.5" r="3.2" fill="#ff0000" stroke="#000" stroke-width="1.1"/>
<circle cx="64" cy="496.7" r="3.2" fill="#ff0000" stroke="#000" stroke-width="1.1"/>
<circle cx="66.4" cy="499.1" r="3.2" fill="#ff0000" stroke="#000" stroke-width="1.1"/>
<circle cx="75.7" cy="496.5" r="3.2" fill="#ff0000" stroke="#000" stroke-width="1.1"/>
<circle cx="173.7" cy="342" r="3.2" fill="#ff0000" stroke="#000" stroke-width="1.1"/>
<line x1="64.3" y1="504.7" x2="173.8" y2="369.4" stroke="#000" stroke-width="1.5"/>
<text x="86.5" y="384.3" font-size="10.6" font-weight="bold">r<tspan font-size="7.5" dy="-4.6">2</tspan><tspan dy="4.6"> = 0.85</tspan></text>
<text x="149.2" y="546.3" text-anchor="middle" font-size="13" font-weight="bold">Smokers / nonsmokers fold-</text>
<text x="149.2" y="561.3" text-anchor="middle" font-size="13" font-weight="bold">change (U133, Harvey et al)</text>
<text transform="translate(11.9,431.4) rotate(-90)" text-anchor="middle" font-size="13" font-weight="bold">Health smokers/nonsmokers</text>
<text transform="translate(26.0,433.0) rotate(-90)" text-anchor="middle" font-size="13" font-weight="bold">fold-change (U133)</text>
<line x1="377.48" y1="338.82" x2="377.48" y2="512.32" stroke="#000" stroke-width="1.4"/>
<line x1="376.88" y1="511.72" x2="555.32" y2="511.72" stroke="#000" stroke-width="1.4"/>
<line x1="373.88" y1="511.72" x2="377.48" y2="511.72" stroke="#000" stroke-width="1.2"/>
<text x="367.88" y="515.72" text-anchor="end" font-size="11" class="rg">-4</text>
<line x1="377.48" y1="511.72" x2="377.48" y2="514.72" stroke="#000" stroke-width="1.2"/>
<text x="377.48" y="528.8" text-anchor="middle" font-size="11" class="rg">-4</text>
<line x1="373.88" y1="492.51" x2="377.48" y2="492.51" stroke="#000" stroke-width="1.2"/>
<text x="367.88" y="496.51" text-anchor="end" font-size="11" class="rg">-2</text>
<line x1="397.24" y1="511.72" x2="397.24" y2="514.72" stroke="#000" stroke-width="1.2"/>
<text x="397.24" y="528.8" text-anchor="middle" font-size="11" class="rg">-2</text>
<line x1="373.88" y1="473.30" x2="377.48" y2="473.30" stroke="#000" stroke-width="1.2"/>
<text x="367.88" y="477.30" text-anchor="end" font-size="11" class="rg">0</text>
<line x1="417.00" y1="511.72" x2="417.00" y2="514.72" stroke="#000" stroke-width="1.2"/>
<text x="417.00" y="528.8" text-anchor="middle" font-size="11" class="rg">0</text>
<line x1="373.88" y1="454.09" x2="377.48" y2="454.09" stroke="#000" stroke-width="1.2"/>
<text x="367.88" y="458.09" text-anchor="end" font-size="11" class="rg">2</text>
<line x1="436.76" y1="511.72" x2="436.76" y2="514.72" stroke="#000" stroke-width="1.2"/>
<text x="436.76" y="528.8" text-anchor="middle" font-size="11" class="rg">2</text>
<line x1="373.88" y1="434.88" x2="377.48" y2="434.88" stroke="#000" stroke-width="1.2"/>
<text x="367.88" y="438.88" text-anchor="end" font-size="11" class="rg">4</text>
<line x1="456.52" y1="511.72" x2="456.52" y2="514.72" stroke="#000" stroke-width="1.2"/>
<text x="456.52" y="528.8" text-anchor="middle" font-size="11" class="rg">4</text>
<line x1="373.88" y1="415.66" x2="377.48" y2="415.66" stroke="#000" stroke-width="1.2"/>
<text x="367.88" y="419.66" text-anchor="end" font-size="11" class="rg">6</text>
<line x1="476.28" y1="511.72" x2="476.28" y2="514.72" stroke="#000" stroke-width="1.2"/>
<text x="476.28" y="528.8" text-anchor="middle" font-size="11" class="rg">6</text>
<line x1="373.88" y1="396.45" x2="377.48" y2="396.45" stroke="#000" stroke-width="1.2"/>
<text x="367.88" y="400.45" text-anchor="end" font-size="11" class="rg">8</text>
<line x1="496.04" y1="511.72" x2="496.04" y2="514.72" stroke="#000" stroke-width="1.2"/>
<text x="496.04" y="528.8" text-anchor="middle" font-size="11" class="rg">8</text>
<line x1="373.88" y1="377.24" x2="377.48" y2="377.24" stroke="#000" stroke-width="1.2"/>
<text x="367.88" y="381.24" text-anchor="end" font-size="11" class="rg">10</text>
<line x1="515.80" y1="511.72" x2="515.80" y2="514.72" stroke="#000" stroke-width="1.2"/>
<text x="515.80" y="528.8" text-anchor="middle" font-size="11" class="rg">10</text>
<line x1="373.88" y1="358.03" x2="377.48" y2="358.03" stroke="#000" stroke-width="1.2"/>
<text x="367.88" y="362.03" text-anchor="end" font-size="11" class="rg">12</text>
<line x1="535.56" y1="511.72" x2="535.56" y2="514.72" stroke="#000" stroke-width="1.2"/>
<text x="535.56" y="528.8" text-anchor="middle" font-size="11" class="rg">12</text>
<line x1="373.88" y1="338.82" x2="377.48" y2="338.82" stroke="#000" stroke-width="1.2"/>
<text x="367.88" y="342.82" text-anchor="end" font-size="11" class="rg">14</text>
<line x1="555.32" y1="511.72" x2="555.32" y2="514.72" stroke="#000" stroke-width="1.2"/>
<text x="555.32" y="528.8" text-anchor="middle" font-size="11" class="rg">14</text>
<circle cx="406.7" cy="462.1" r="3.2" fill="#ff0000" stroke="#000" stroke-width="1.1"/>
<circle cx="388.5" cy="489" r="3.2" fill="#ff0000" stroke="#000" stroke-width="1.1"/>
<circle cx="395.9" cy="488.8" r="3.2" fill="#ff0000" stroke="#000" stroke-width="1.1"/>
<circle cx="390" cy="496.5" r="3.2" fill="#ff0000" stroke="#000" stroke-width="1.1"/>
<circle cx="392.7" cy="495.9" r="3.2" fill="#ff0000" stroke="#000" stroke-width="1.1"/>
<circle cx="388.5" cy="499.6" r="3.2" fill="#ff0000" stroke="#000" stroke-width="1.1"/>
<circle cx="430.6" cy="457" r="3.2" fill="#ff0000" stroke="#000" stroke-width="1.1"/>
<circle cx="433.8" cy="457.5" r="3.2" fill="#ff0000" stroke="#000" stroke-width="1.1"/>
<circle cx="434.8" cy="460.7" r="3.2" fill="#ff0000" stroke="#000" stroke-width="1.1"/>
<circle cx="432.7" cy="461.2" r="3.2" fill="#ff0000" stroke="#000" stroke-width="1.1"/>
<circle cx="427.4" cy="461.7" r="3.2" fill="#ff0000" stroke="#000" stroke-width="1.1"/>
<circle cx="440.1" cy="460.7" r="3.2" fill="#ff0000" stroke="#000" stroke-width="1.1"/>
<circle cx="503.3" cy="344.2" r="3.2" fill="#ff0000" stroke="#000" stroke-width="1.1"/>
<line x1="394.8" y1="496.5" x2="503.8" y2="368.8" stroke="#000" stroke-width="1.5"/>
<text x="405.3" y="384" font-size="10.6" font-weight="bold">r<tspan font-size="7.5" dy="-4.6">2</tspan><tspan dy="4.6"> = 0.90</tspan></text>
<text x="465.6" y="546.3" text-anchor="middle" font-size="13" font-weight="bold">Smokers / nonsmokers</text>
<text x="465.6" y="561.3" text-anchor="middle" font-size="13" font-weight="bold">fold-change (RNA Seq)</text>
<text transform="translate(334.2,428.6) rotate(-90)" text-anchor="middle" font-size="13" font-weight="bold">Health smokers/nonsmokers</text>
<text transform="translate(349.2,428.8) rotate(-90)" text-anchor="middle" font-size="13" font-weight="bold">fold-change (U133)</text>
</svg>
</body></html>
